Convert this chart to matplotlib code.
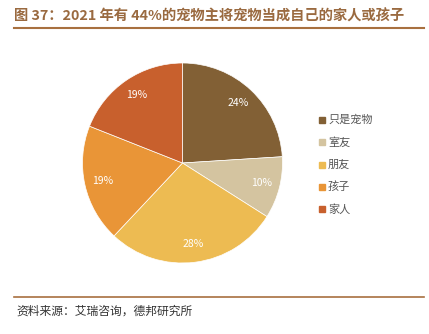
import matplotlib.pyplot as plt
import matplotlib.lines as mlines

plt.rcParams['font.family'] = ['Noto Sans CJK SC', 'DejaVu Sans']

# 数据
labels = ['只是宠物', '室友', '朋友', '孩子', '家人']
values = [24, 10, 28, 19, 19]
colors = ['#826035', '#D4C4A0', '#EDBB52', '#E99537', '#C8602D']

fig = plt.figure(figsize=(4.29, 3.34), dpi=100)

# 标题和分隔线
fig.text(14 / 429, 1 - 15 / 334, '图 37：2021 年有 44%的宠物主将宠物当成自己的家人或孩子',
         fontsize=10.3, fontweight='bold', color='#9A6A40', va='center', ha='left')
fig.add_artist(mlines.Line2D([14 / 429, 424 / 429], [1 - 28 / 334, 1 - 28 / 334],
                             color='#A8703F', lw=1.5))
fig.add_artist(mlines.Line2D([14 / 429, 424 / 429], [1 - 297 / 334, 1 - 297 / 334],
                             color='#A8703F', lw=1.2))
fig.text(16 / 429, 1 - 311 / 334, '资料来源：艾瑞咨询，德邦研究所',
         fontsize=8.5, color='#333333', va='center', ha='left')

# 饼图
r = 100
cx, cy = 182.5, 163
ax = fig.add_axes([(cx - r) / 429, 1 - (cy + r) / 334, 2 * r / 429, 2 * r / 334])
wedges, _, autotexts = ax.pie(values, colors=colors, startangle=90, counterclock=False,
                              autopct='%d%%', pctdistance=0.82,
                              wedgeprops=dict(edgecolor='white', linewidth=0.5),
                              textprops=dict(color='white', fontsize=7.5))
ax.set_xlim(-1, 1)
ax.set_ylim(-1, 1)
ax.set_aspect('equal')

# 图例
for i, (lab, col) in enumerate(zip(labels, colors)):
    y = 1 - (120 + i * 22.3) / 334
    fig.patches.append(plt.Rectangle((319 / 429, y - 3 / 334), 6 / 429, 6 / 334,
                                     transform=fig.transFigure, color=col, figure=fig))
    fig.text(328 / 429, y, lab, fontsize=8, color='#555555', va='center', ha='left')

fig.savefig('out.png', dpi=100)
